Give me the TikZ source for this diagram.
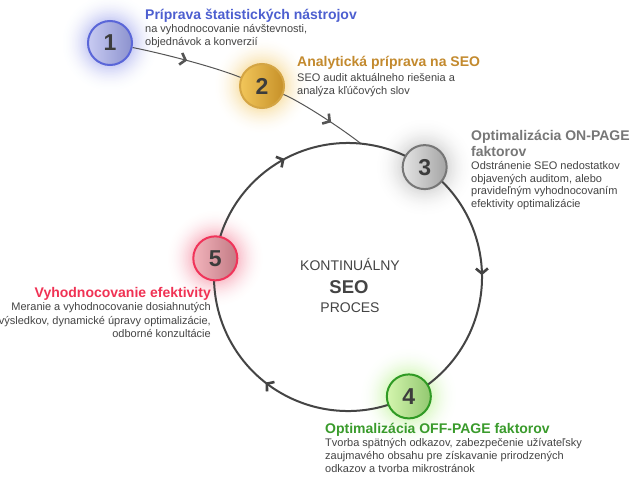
\documentclass[tikz,border=0pt]{standalone}
\usepackage{fontspec}
\setmainfont{Liberation Sans}
\usetikzlibrary{arrows.meta,decorations.markings,backgrounds,calc}
\definecolor{c1b}{HTML}{5A66D8}\definecolor{c1l}{HTML}{C8CBF2}\definecolor{c1d}{HTML}{8C92CE}\definecolor{c1g}{HTML}{8A92E8}\definecolor{c1t}{HTML}{4D5FD0}
\definecolor{c2b}{HTML}{D4A544}\definecolor{c2l}{HTML}{F2C65A}\definecolor{c2d}{HTML}{C69028}\definecolor{c2g}{HTML}{F2C458}\definecolor{c2t}{HTML}{C38A2E}
\definecolor{c3b}{HTML}{767676}\definecolor{c3l}{HTML}{E4E4E4}\definecolor{c3d}{HTML}{A4A4A4}\definecolor{c3g}{HTML}{B0B0B0}\definecolor{c3t}{HTML}{777777}
\definecolor{c4b}{HTML}{2F9A24}\definecolor{c4l}{HTML}{D4F5AE}\definecolor{c4d}{HTML}{92C870}\definecolor{c4g}{HTML}{B0F080}\definecolor{c4t}{HTML}{3A9B2C}
\definecolor{c5b}{HTML}{F0345A}\definecolor{c5l}{HTML}{F2B4BC}\definecolor{c5d}{HTML}{C27A84}\definecolor{c5g}{HTML}{F27088}\definecolor{c5t}{HTML}{F03254}
\definecolor{textgray}{HTML}{444444}
\definecolor{numgray}{HTML}{3C3C3C}
\definecolor{linegray}{HTML}{444444}
\definecolor{thingray}{HTML}{555555}
\newcommand\myglow[2]{\foreach \i in {0,...,18}{\pgfmathsetmacro\r{50-1.5*\i}\pgfmathsetmacro\p{45*(\i/18)^2}\fill[#2!\p!white] (#1) circle[radius=\r pt];}}
\tikzset{
  numnode/.style={circle, minimum size=44pt, inner sep=0pt, line width=2pt,
    draw=#1b, left color=#1l, right color=#1d, text=numgray,
    font=\fontsize{23}{23}\selectfont\bfseries},
  titletext/.style={inner sep=0pt, text=#1t, font=\fontsize{14}{16}\selectfont\bfseries},
  bodytext/.style={inner sep=0pt, text=textgray, font=\fontsize{11}{12.7}\selectfont},
  bodytextb/.style={inner sep=0pt, text=textgray, font=\fontsize{11}{13.3}\selectfont},
  bigline/.style={draw=linegray, line width=2pt},
  thinline/.style={draw=thingray, line width=1pt},
  midarrow/.style={postaction={decorate}, decoration={markings,
    mark=at position #1 with {\arrow{Straight Barb[length=5pt,width=12pt,line width=2.6pt]}}}},
}
\begin{document}
\begin{tikzpicture}[x=1pt,y=1pt]
\useasboundingbox (0,0) rectangle (644,483);
\coordinate (C) at (348,206);
\coordinate (e) at ($(C)+(84.4:134)$);
% step circles
\node[numnode=c1] (n1) at (110,440) {1};
\node[numnode=c2] (n2) at (262,397) {2};
\node[numnode=c3] (n3) at ($(C)+(55.1:134)$) {3};
\node[numnode=c4] (n4) at ($(C)+(-63:134)$) {4};
\node[numnode=c5] (n5) at ($(C)+(172:134)$) {5};
% texts (base anchor = baseline of the last line)
\node[titletext=c1, anchor=base west] (t1) at (145,463) {Príprava štatistických nástrojov};
\node[bodytext, anchor=base west, align=left] (b1) at (145,437.3) {na vyhodnocovanie návštevnosti,\\objednávok a konverzií};
\node[titletext=c2, anchor=base west] (t2) at (297,416) {Analytická príprava na SEO};
\node[bodytext, anchor=base west, align=left] (b2) at (297,388.8) {SEO audit aktuálneho riešenia a\\analýza kľúčových slov};
\node[titletext=c3, anchor=base west, align=left] (t3) at (471,326.5) {Optimalizácia ON-PAGE\\faktorov};
\node[bodytext, anchor=base west, align=left] (b3) at (471,275.4) {Odstránenie SEO nedostatkov\\objavených auditom, alebo\\pravideľným vyhodnocovaním\\efektivity optimalizácie};
\node[titletext=c4, anchor=base west] (t4) at (325,50) {Optimalizácia OFF-PAGE faktorov};
\node[bodytextb, anchor=base west, align=left] (b4) at (325,10.4) {Tvorba spätných odkazov, zabezpečenie užívateľsky\\zaujmavého obsahu pre získavanie prirodzených\\odkazov a tvorba mikrostránok};
\node[titletext=c5, anchor=base east] (t5) at (211,186) {Vyhodnocovanie efektivity};
\node[bodytextb, anchor=base east, align=right] (b5) at (211,145.7) {Meranie a vyhodnocovanie dosiahnutých\\výsledkov, dynamické úpravy optimalizácie,\\odborné konzultácie};
% center text
\node[inner sep=0pt, text=textgray, font=\fontsize{14}{14}\selectfont, anchor=base] (k1) at (350,213) {KONTINUÁLNY};
\node[inner sep=0pt, text=textgray, font=\fontsize{18.5}{18.5}\selectfont\bfseries, anchor=base] (k2) at (349,189.5) {SEO};
\node[inner sep=0pt, text=textgray, font=\fontsize{14}{14}\selectfont, anchor=base] (k3) at (350,171) {PROCES};
\begin{pgfonlayer}{background}
\fill[white] (0,0) rectangle (644,483);
\myglow{n1}{c1g}
\myglow{n2}{c2g}
\myglow{n3}{c3g}
\myglow{n4}{c4g}
\myglow{n5}{c5g}
\draw[thinline, midarrow=0.5] (n1) .. controls (160,430) and (212,417) .. (n2);
\draw[thinline, midarrow=0.6] (n2) .. controls (295,384) and (330,363) .. (e);
\draw[bigline, midarrow=0.46] (n3.center) arc[start angle=55.1, end angle=-63, radius=134pt];
\draw[bigline, midarrow=0.52] (n4.center) arc[start angle=-63, end angle=-188, radius=134pt];
\draw[bigline, midarrow=0.46] (n5.center) arc[start angle=172, end angle=55.1, radius=134pt];
\end{pgfonlayer}
\end{tikzpicture}
\end{document}
